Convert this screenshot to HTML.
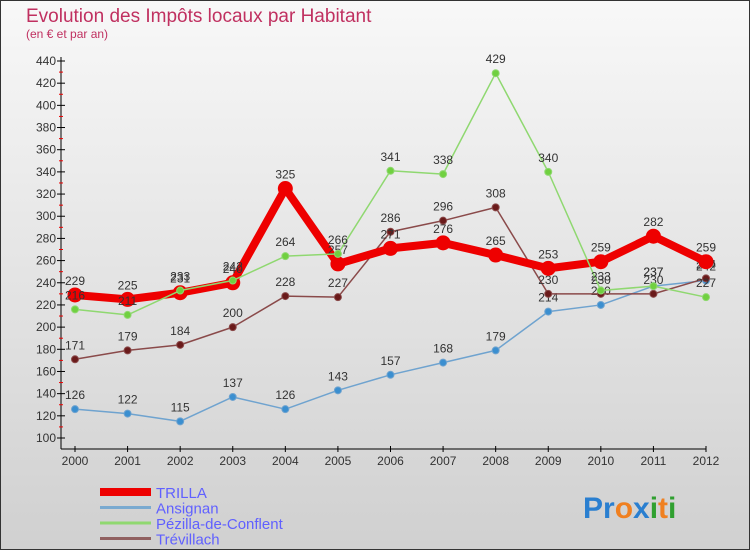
<!DOCTYPE html>
<html><head><meta charset="utf-8"><style>
body{margin:0;width:750px;height:550px;overflow:hidden;font-family:"Liberation Sans",sans-serif}
</style></head><body>
<svg width="750" height="550" viewBox="0 0 750 550">
<defs><linearGradient id="bg" x1="0" y1="0" x2="0" y2="1"><stop offset="0" stop-color="#f8f8f8"/><stop offset="1" stop-color="#d0d0d0"/></linearGradient></defs>
<rect x="0.5" y="0.5" width="749" height="549" fill="url(#bg)" stroke="#333"/>
<text x="26" y="22" font-size="19" fill="#c03060">Evolution des Impôts locaux par Habitant</text>
<text x="26" y="38" font-size="12" fill="#c03060">(en € et par an)</text>
<g id="axes"></g><g id="series"></g><g id="legend"></g>
<text x="583" y="518" font-size="30" font-weight="bold"><tspan fill="#2a7fd0">Pr</tspan><tspan fill="#f08020">o</tspan><tspan fill="#2a7fd0">x</tspan><tspan fill="#30a030">i</tspan><tspan fill="#f08020">t</tspan><tspan fill="#30a030">i</tspan></text>
</svg>
<script>
const years=[2000,2001,2002,2003,2004,2005,2006,2007,2008,2009,2010,2011,2012];
const yTicks=[100,120,140,160,180,200,220,240,260,280,300,320,340,360,380,400,420,440];
const trilla=[229,225,231,240,325,257,271,276,265,253,259,282,259];
const ansignan=[126,122,115,137,126,143,157,168,179,214,220,237,242];
const pezilla=[216,211,233,242,264,266,341,338,429,340,233,237,227];
const trevillach=[171,179,184,200,228,227,286,296,308,230,230,230,244];
const NS="http://www.w3.org/2000/svg";
const x=i=>75+i*(706-75)/12;
const y=v=>438-(v-100)*(438-61)/340;
function mk(t,a,p){const e=document.createElementNS(NS,t);for(const k in a)e.setAttribute(k,a[k]);p.appendChild(e);return e;}
const ax=document.getElementById('axes');
let l=mk('line',{x1:61,y1:57,x2:61,y2:449,stroke:'#000'},ax);


l=mk('line',{x1:61,y1:449,x2:706,y2:449,stroke:'#000'},ax);


yTicks.forEach(v=>{
 mk('line',{x1:57,y1:y(v),x2:65,y2:y(v),stroke:'#000'},ax);
 if(v<440)mk('line',{x1:59,y1:y(v+10),x2:63,y2:y(v+10),stroke:'#e00'},ax);
 const t=mk('text',{x:56,y:y(v)+4,'font-size':12,'text-anchor':'end',fill:'#333'},ax);t.textContent=v;
 
 
});
years.forEach((yr,i)=>{
 mk('line',{x1:x(i),y1:446,x2:x(i),y2:452,stroke:'#000'},ax);
 const t=mk('text',{x:x(i),y:465,'font-size':12,'text-anchor':'middle',fill:'#333'},ax);t.textContent=yr;
 
 
});
const S=document.getElementById('series');
function draw(data,color,w,r,fill,name){
 const g=mk('g',{},S);
 
 
 mk('polyline',{points:data.map((v,i)=>x(i)+','+y(v)).join(' '),fill:'none',stroke:color,'stroke-width':w,'stroke-linejoin':'round'},g);
 data.forEach((v,i)=>{
  const c=mk('circle',{cx:x(i),cy:y(v),r:r,fill:fill,stroke:color,'stroke-width':1},g);
  
  
  const t=mk('text',{x:x(i),y:y(v)-10,'font-size':12,'text-anchor':'middle',fill:'#333'},g);t.textContent=v;
  
  
 });
}
draw(ansignan,'#6fa3cf',1.5,3.5,'#3b8fd0','ansignan');
draw(trevillach,'#8a4a4a',1.5,3.5,'#6a1a1a','trevillach');
draw(trilla,'#ee0000',8,7,'#ee0000','trilla');
draw(pezilla,'#8fd870',1.5,3.5,'#70d040','pezilla');
const L=document.getElementById('legend');
[['TRILLA','#ee0000',8],['Ansignan','#7aaad0',3],['Pézilla-de-Conflent','#90d870',3],['Trévillach','#906060',3]].forEach((d,i)=>{
 const yy=492+i*15.5;
 const g=mk('g',{},L);
 
 
 mk('line',{x1:100,y1:yy,x2:151,y2:yy,stroke:d[1],'stroke-width':d[2]},g);
 const t=mk('text',{x:156,y:yy+6,'font-size':15,fill:'#6060ff'},g);t.textContent=d[0];
});
</script>
</body></html>
